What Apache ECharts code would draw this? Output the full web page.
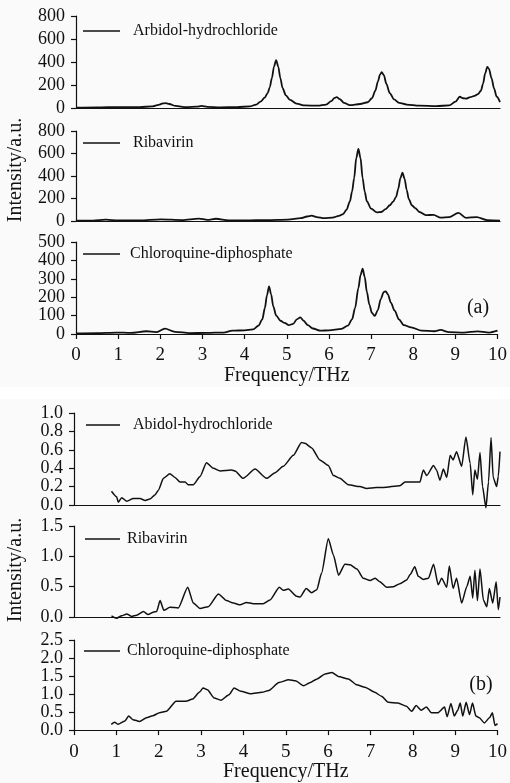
<!DOCTYPE html>
<html>
<head>
<meta charset="utf-8">
<script src="https://cdn.jsdelivr.net/npm/echarts@6/dist/echarts.min.js"></script>
<style>
    html, body { margin: 0; padding: 0; background: #fafafa; }
    #thz-spectra { width: 510px; height: 783px; }
</style>
</head>
<body>
<div id="thz-spectra"></div>
<script>
// =============================== //
//
// Render THz spectra, panels (a) and (b)
//
// =============================== //

// ------------------- //
// Panel (a) data
// ------------------- //
const arbidolFreqA = [0, 0.5, 1.0, 1.5, 1.8, 1.95, 2.05, 2.12, 2.2, 2.35, 2.6, 2.85, 2.96, 3.1, 3.4, 3.8, 4.1, 4.25, 4.35, 4.45, 4.52, 4.57, 4.62, 4.67, 4.72, 4.77, 4.82, 4.87, 4.95, 5.05, 5.2, 5.4, 5.7, 5.9, 6.02, 6.1, 6.15, 6.22, 6.32, 6.46, 6.7, 6.88, 6.98, 7.06, 7.12, 7.17, 7.21, 7.26, 7.32, 7.4, 7.5, 7.62, 7.8, 8.1, 8.5, 8.8, 8.95, 9.05, 9.13, 9.2, 9.3, 9.4, 9.48, 9.55, 9.6, 9.65, 9.7, 9.74, 9.8, 9.86, 9.92, 10];
const arbidolIntA = [3, 5, 8, 8, 14, 28, 40, 42, 35, 18, 7, 12, 18, 10, 6, 8, 14, 30, 55, 90, 130, 180, 260, 360, 417, 360, 260, 175, 110, 70, 38, 22, 20, 30, 60, 88, 95, 78, 45, 25, 35, 50, 85, 150, 230, 290, 312, 285, 210, 130, 75, 45, 30, 20, 17, 22, 55, 98, 85, 82, 95, 105, 120, 150, 210, 300, 358, 340, 260, 170, 100, 52];

const ribavirinFreqA = [0, 0.4, 0.7, 1.0, 1.5, 2.0, 2.5, 2.9, 3.1, 3.3, 3.6, 4.0, 4.5, 5.0, 5.3, 5.45, 5.56, 5.68, 5.85, 6.05, 6.2, 6.3, 6.38, 6.46, 6.51, 6.56, 6.61, 6.66, 6.71, 6.76, 6.81, 6.86, 6.96, 7.1, 7.2, 7.3, 7.4, 7.48, 7.55, 7.6, 7.65, 7.7, 7.75, 7.8, 7.85, 7.92, 8.0, 8.1, 8.25, 8.43, 8.6, 8.8, 9.02, 9.2, 9.45, 9.7, 10];
const ribavirinIntA = [3, 4, 12, 5, 6, 15, 8, 22, 10, 20, 6, 5, 8, 12, 25, 40, 48, 35, 25, 30, 45, 62, 100, 175, 260, 380, 560, 640, 560, 380, 260, 175, 110, 76, 80, 105, 140, 172, 215, 285, 380, 430, 375, 275, 195, 140, 115, 80, 52, 55, 30, 35, 72, 28, 35, 8, 3];

const chloroquineFreqA = [0, 0.5, 0.96, 1.3, 1.67, 1.9, 2.11, 2.35, 2.7, 3.1, 3.5, 3.71, 4.0, 4.2, 4.33, 4.42, 4.48, 4.53, 4.58, 4.63, 4.68, 4.75, 4.85, 4.95, 5.05, 5.15, 5.24, 5.32, 5.4, 5.5, 5.62, 5.8, 6.0, 6.3, 6.45, 6.55, 6.62, 6.7, 6.75, 6.8, 6.85, 6.9, 6.96, 7.02, 7.09, 7.16, 7.23, 7.3, 7.35, 7.4, 7.47, 7.56, 7.66, 7.78, 7.95, 8.2, 8.5, 8.65, 8.85, 9.2, 9.53, 9.8, 10];
const chloroquineIntA = [3, 5, 8, 6, 15, 10, 29, 12, 5, 6, 8, 18, 20, 25, 45, 80, 140, 210, 259, 215, 150, 100, 72, 60, 48, 55, 80, 90, 72, 48, 30, 18, 20, 28, 45, 80, 140, 250, 320, 355, 310, 230, 160, 115, 98, 130, 190, 228, 232, 215, 170, 127, 80, 48, 36, 18, 15, 22, 10, 8, 14, 8, 18];

// ------------------- //
// Panel (b) data
// ------------------- //
const abidolFreqB = [0.88, 1.00, 1.04, 1.12, 1.24, 1.39, 1.55, 1.67, 1.78, 1.90, 1.98, 2.10, 2.25, 2.37, 2.49, 2.61, 2.68, 2.80, 2.96, 3.11, 3.27, 3.43, 3.70, 3.78, 3.97, 4.25, 4.52, 4.72, 4.91, 5.15, 5.34, 5.42, 5.58, 5.77, 5.97, 6.09, 6.24, 6.44, 6.71, 6.87, 7.10, 7.26, 7.65, 7.77, 7.97, 8.12, 8.20, 8.28, 8.44, 8.51, 8.59, 8.67, 8.75, 8.83, 8.90, 8.98, 9.10, 9.20, 9.30, 9.36, 9.41, 9.47, 9.53, 9.59, 9.67, 9.73, 9.79, 9.84, 9.92, 9.96, 10.0];
const abidolIntB = [0.15, 0.09, 0.03, 0.08, 0.04, 0.07, 0.07, 0.05, 0.065, 0.11, 0.16, 0.29, 0.34, 0.30, 0.25, 0.25, 0.22, 0.22, 0.31, 0.46, 0.40, 0.37, 0.38, 0.37, 0.29, 0.39, 0.29, 0.35, 0.42, 0.54, 0.68, 0.67, 0.62, 0.49, 0.43, 0.32, 0.29, 0.22, 0.20, 0.18, 0.19, 0.19, 0.21, 0.25, 0.25, 0.25, 0.38, 0.32, 0.43, 0.38, 0.27, 0.39, 0.30, 0.54, 0.49, 0.58, 0.42, 0.74, 0.45, 0.11, 0.38, 0.28, 0.57, 0.20, -0.03, 0.25, 0.73, 0.30, 0.20, 0.31, 0.58];

const ribavirinFreqB = [0.88, 1.00, 1.12, 1.24, 1.35, 1.47, 1.63, 1.74, 1.86, 1.94, 2.02, 2.11, 2.25, 2.45, 2.67, 2.80, 2.96, 3.15, 3.39, 3.58, 3.74, 3.90, 4.05, 4.21, 4.44, 4.60, 4.82, 4.91, 5.03, 5.23, 5.31, 5.45, 5.58, 5.70, 5.81, 5.97, 6.09, 6.21, 6.36, 6.48, 6.64, 6.79, 6.95, 7.07, 7.18, 7.34, 7.50, 7.65, 7.81, 7.89, 8.00, 8.08, 8.20, 8.32, 8.44, 8.55, 8.63, 8.75, 8.81, 8.90, 8.98, 9.10, 9.22, 9.30, 9.36, 9.41, 9.47, 9.53, 9.61, 9.69, 9.75, 9.83, 9.91, 9.96, 10.0];
const ribavirinIntB = [0.02, -0.02, 0.02, 0.05, 0.01, 0.03, 0.09, 0.04, 0.08, 0.09, 0.27, 0.11, 0.16, 0.15, 0.49, 0.23, 0.14, 0.17, 0.38, 0.27, 0.23, 0.20, 0.24, 0.22, 0.22, 0.28, 0.49, 0.44, 0.46, 0.34, 0.33, 0.47, 0.40, 0.45, 0.72, 1.29, 1.02, 0.69, 0.87, 0.86, 0.79, 0.64, 0.60, 0.64, 0.58, 0.49, 0.50, 0.55, 0.61, 0.70, 0.83, 0.67, 0.62, 0.64, 0.87, 0.53, 0.64, 0.49, 0.84, 0.47, 0.64, 0.23, 0.50, 0.67, 0.31, 0.77, 0.27, 0.79, 0.28, 0.17, 0.47, 0.23, 0.58, 0.12, 0.33];

const chloroquineFreqB = [0.88, 0.96, 1.04, 1.20, 1.29, 1.39, 1.55, 1.71, 1.86, 2.02, 2.18, 2.41, 2.64, 2.80, 2.96, 3.05, 3.15, 3.31, 3.47, 3.66, 3.78, 3.94, 4.17, 4.44, 4.60, 4.84, 5.07, 5.23, 5.42, 5.58, 5.74, 5.93, 6.09, 6.24, 6.48, 6.67, 6.87, 7.10, 7.26, 7.42, 7.65, 7.85, 7.97, 8.08, 8.20, 8.32, 8.44, 8.59, 8.75, 8.81, 8.90, 8.98, 9.06, 9.12, 9.18, 9.26, 9.34, 9.41, 9.49, 9.57, 9.69, 9.81, 9.88, 9.94, 10.0];
const chloroquineIntB = [0.16, 0.22, 0.16, 0.25, 0.39, 0.29, 0.24, 0.34, 0.40, 0.48, 0.52, 0.80, 0.80, 0.86, 1.05, 1.17, 1.12, 0.89, 0.83, 0.98, 1.17, 1.08, 1.01, 1.05, 1.10, 1.32, 1.40, 1.37, 1.23, 1.32, 1.42, 1.56, 1.60, 1.49, 1.42, 1.26, 1.19, 1.05, 0.94, 0.77, 0.75, 0.66, 0.52, 0.68, 0.55, 0.64, 0.48, 0.48, 0.64, 0.37, 0.74, 0.39, 0.55, 0.75, 0.39, 0.77, 0.43, 0.75, 0.39, 0.34, 0.20, 0.34, 0.48, 0.13, 0.18];

// Axis ticks for each subplot
const xTicks = { min: 0, max: 10, interval: 1 };
const yRanges = [
    { max: 800, interval: 200, digits: 0 },
    { max: 800, interval: 200, digits: 0 },
    { max: 500, interval: 100, digits: 0 },
    { max: 1.0, interval: 0.2, digits: 1 },
    { max: 1.5, interval: 0.5, digits: 1 },
    { max: 2.5, interval: 0.5, digits: 1 },
];

// Series names (legend text per subplot)
const seriesNames = ["Arbidol-hydrochloride", "Ribavirin", "Chloroquine-diphosphate",
                     "Abidol-hydrochloride", "Ribavirin", "Chloroquine-diphosphate"];
const seriesFreqs = [arbidolFreqA, ribavirinFreqA, chloroquineFreqA, abidolFreqB, ribavirinFreqB, chloroquineFreqB];
const seriesInts = [arbidolIntA, ribavirinIntA, chloroquineIntA, abidolIntB, ribavirinIntB, chloroquineIntB];

// Layout of the six grids (px)
const grids = [
    { left: 76, top: 16, height: 92 },
    { left: 76, top: 131, height: 90 },
    { left: 76, top: 242, height: 92 },
    { left: 74, top: 413, height: 92 },
    { left: 74, top: 526, height: 91 },
    { left: 74, top: 640, height: 91 },
];
// Legend positions: [lineStart, lineEnd, textStart, y]
const legendPos = [
    [83, 120, 133, 31],
    [83, 120, 133, 143],
    [83, 120, 130, 254],
    [86, 120, 133, 425],
    [85, 120, 127, 539],
    [84, 120, 127, 651],
];

const FONT = "Liberation Serif, Times New Roman, serif";
const INK = "#111";

// Select element and init echarts
const plotElement = document.getElementById("thz-spectra");
const echartsPlot = echarts.init(plotElement, null, { renderer: "canvas" });

let option = {
    animation: false,
    backgroundColor: "#fafafa",
    grid: [],
    xAxis: [],
    yAxis: [],
    series: [],
    graphic: [],
};

for (let i = 0; i < 6; i++) {
    const isBottom = (i === 2 || i === 5);

    // GRID
    option.grid.push({
        left: grids[i].left,
        right: 10,
        top: grids[i].top,
        height: grids[i].height,
    });

    // XAXIS
    option.xAxis.push({
        type: "value",
        gridIndex: i,
        min: xTicks.min,
        max: xTicks.max,
        interval: xTicks.interval,
        name: isBottom ? "Frequency/THz" : "",
        nameLocation: "middle",
        nameGap: i === 2 ? 31 : 27,
        nameTextStyle: { fontFamily: FONT, fontSize: 20, color: INK },
        axisLine: { show: true, onZero: false, lineStyle: { color: INK, width: 1.2 } },
        axisTick: { show: isBottom, length: 5, lineStyle: { color: INK, width: 1.2 } },
        axisLabel: {
            show: isBottom, margin: 12, fontFamily: FONT, fontSize: 19, color: INK,
            showMinLabel: true, showMaxLabel: true,
        },
        splitLine: { show: false },
    });

    // YAXIS
    const yr = yRanges[i];
    option.yAxis.push({
        type: "value",
        gridIndex: i,
        min: 0,
        max: yr.max,
        interval: yr.interval,
        axisLine: { show: true, lineStyle: { color: INK, width: 1.2 } },
        axisTick: { show: true, length: 5, lineStyle: { color: INK, width: 1.2 } },
        axisLabel: {
            margin: 11,
            fontFamily: FONT,
            fontSize: 18,
            color: INK,
            showMinLabel: true,
            showMaxLabel: true,
            formatter: v => v.toFixed(yr.digits),
        },
        splitLine: { show: false },
    });

    // SERIES
    option.series.push({
        name: seriesNames[i],
        type: "line",
        xAxisIndex: i,
        yAxisIndex: i,
        data: seriesFreqs[i].map((f, k) => [f, seriesInts[i][k]]),
        symbol: "none",
        smooth: i < 3 ? 0.3 : 0.2,
        smoothMonotone: "x",
        clip: false,
        lineStyle: { color: INK, width: i < 3 ? 1.8 : 1.5 },
    });

    // LEGEND (line + label)
    const lp = legendPos[i];
    option.graphic.push({
        type: "line",
        shape: { x1: lp[0], y1: lp[3], x2: lp[1], y2: lp[3] },
        style: { stroke: INK, lineWidth: 1.5 },
    });
    option.graphic.push({
        type: "text",
        x: lp[2],
        y: lp[3],
        style: {
            text: seriesNames[i],
            font: "16px " + FONT,
            fill: INK,
            textAlign: "left",
            textVerticalAlign: "middle",
        },
    });
}

// White strip between panels
option.graphic.push({
    type: "rect",
    z: -10,
    shape: { x: 0, y: 387, width: 510, height: 12 },
    style: { fill: "#ffffff" },
});

// Y axis titles and panel tags
const yTitles = [170, 570];
yTitles.forEach(y => {
    option.graphic.push({
        type: "text",
        x: 16,
        y: y,
        rotation: Math.PI / 2,
        style: {
            text: "Intensity/a.u.",
            font: "20px " + FONT,
            fill: INK,
            textAlign: "center",
            textVerticalAlign: "middle",
        },
    });
});
option.graphic.push({
    type: "text", x: 478, y: 308,
    style: { text: "(a)", font: "20px " + FONT, fill: INK, textAlign: "center", textVerticalAlign: "middle" },
});
option.graphic.push({
    type: "text", x: 481, y: 685,
    style: { text: "(b)", font: "20px " + FONT, fill: INK, textAlign: "center", textVerticalAlign: "middle" },
});

// Display the chart
echartsPlot.setOption(option);
</script>
</body>
</html>
